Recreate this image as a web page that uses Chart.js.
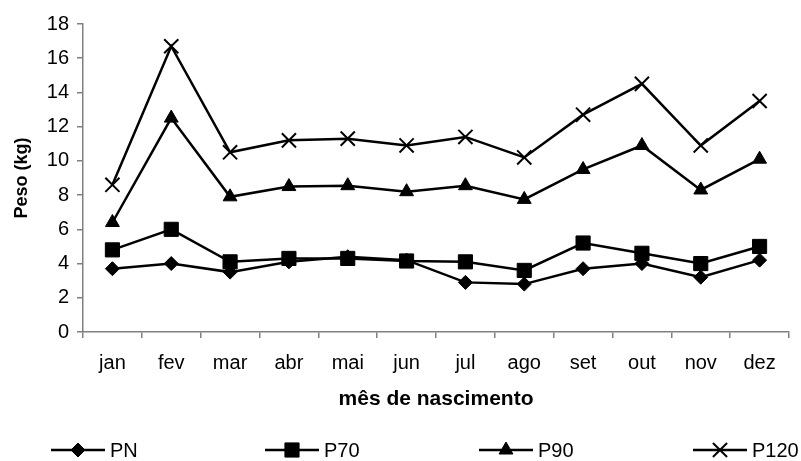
<!DOCTYPE html>
<html>
<head>
<meta charset="utf-8">
<script src="https://cdn.jsdelivr.net/npm/chart.js@4.4.1/dist/chart.umd.min.js"></script>
<style>
    body { margin: 0; background: #ffffff; }
    #grafico { width: 801px; height: 461px; }
</style>
</head>
<body>
<div id="grafico"><canvas id="chartPeso"></canvas></div>
<script>
const meses = ["jan", "fev", "mar", "abr", "mai", "jun", "jul", "ago", "set", "out", "nov", "dez"];
const pesoPN = [3.7, 4.0, 3.5, 4.1, 4.4, 4.2, 2.9, 2.8, 3.7, 4.0, 3.2, 4.2];
const pesoP70 = [4.8, 6.0, 4.1, 4.3, 4.3, 4.15, 4.1, 3.6, 5.2, 4.6, 4.0, 5.0];
const pesoP90 = [6.4, 12.5, 7.9, 8.5, 8.55, 8.2, 8.55, 7.75, 9.5, 10.9, 8.3, 10.1];
const pesoP120 = [8.6, 16.7, 10.5, 11.2, 11.3, 10.9, 11.4, 10.2, 12.7, 14.5, 10.9, 13.5];

const fonte = "'Liberation Sans', Arial, sans-serif";

function serie(nome, dados, estilo, raio) {
    return {
        label: nome,
        data: dados,
        borderColor: '#000000',
        backgroundColor: '#000000',
        borderWidth: 2.5,
        pointStyle: estilo,
        pointRadius: raio,
        pointHoverRadius: raio,
        pointBorderWidth: estilo === 'crossRot' ? 2 : 1,
        pointBackgroundColor: '#000000',
        pointBorderColor: '#000000',
        tension: 0
    }
}

// legenda desenhada na mao, com linha + marcador igual ao original
const legendaLinha = {
    id: 'legendaLinha',
    afterDraw(chart) {
        const ctx = chart.ctx
        const y = 450
        ctx.save()
        chart.data.datasets.forEach((ds, i) => {
            const x0 = 51 + i * 214
            ctx.strokeStyle = '#000000'
            ctx.lineWidth = 2.5
            ctx.beginPath()
            ctx.moveTo(x0, y)
            ctx.lineTo(x0 + 54, y)
            ctx.stroke()
            ctx.fillStyle = '#000000'
            ctx.lineWidth = ds.pointBorderWidth
            Chart.helpers.drawPoint(ctx, { pointStyle: ds.pointStyle, radius: ds.pointRadius, rotation: 0, borderWidth: ds.pointBorderWidth }, x0 + 27, y)
            ctx.font = '20px ' + fonte
            ctx.textBaseline = 'middle'
            ctx.textAlign = 'left'
            ctx.fillText(ds.label, x0 + 59, y + 1)
        })
        ctx.restore()
    }
}

new Chart(document.getElementById('chartPeso'), {
    type: 'line',
    data: {
        labels: meses,
        datasets: [
            serie('PN', pesoPN, 'rectRot', 7),
            serie('P70', pesoP70, 'rect', 10),
            serie('P90', pesoP90, 'triangle', 8),
            serie('P120', pesoP120, 'crossRot', 10)
        ]
    },
    options: {
        responsive: true,
        maintainAspectRatio: false,
        animation: false,
        layout: {
            padding: { top: 24, right: 5, bottom: 41, left: 0 }
        },
        plugins: {
            legend: { display: false },
            tooltip: { enabled: false }
        },
        scales: {
            x: {
                offset: true,
                afterFit(scale) { scale.height = 88 },
                border: { color: '#808080', width: 1.5 },
                grid: {
                    offset: true,
                    drawOnChartArea: false,
                    tickLength: 6,
                    color: '#808080',
                    lineWidth: 1.5
                },
                ticks: {
                    color: '#000000',
                    padding: 13,
                    font: { family: fonte, size: 20 }
                },
                title: {
                    display: true,
                    text: 'mês de nascimento',
                    color: '#000000',
                    padding: { top: 0, bottom: 8 },
                    font: { family: fonte, size: 21, weight: 'bold' }
                }
            },
            y: {
                min: 0,
                max: 18,
                afterFit(scale) { scale.width = 83 },
                border: { color: '#808080', width: 1.5 },
                grid: {
                    drawOnChartArea: false,
                    tickLength: 6,
                    color: '#808080',
                    lineWidth: 1.5
                },
                ticks: {
                    stepSize: 2,
                    color: '#000000',
                    padding: 8,
                    font: { family: fonte, size: 20 }
                },
                title: {
                    display: true,
                    text: 'Peso (kg)',
                    color: '#000000',
                    padding: { top: 11, bottom: 0 },
                    font: { family: fonte, size: 18, weight: 'bold' }
                }
            }
        }
    },
    plugins: [legendaLinha]
});
</script>
</body>
</html>
